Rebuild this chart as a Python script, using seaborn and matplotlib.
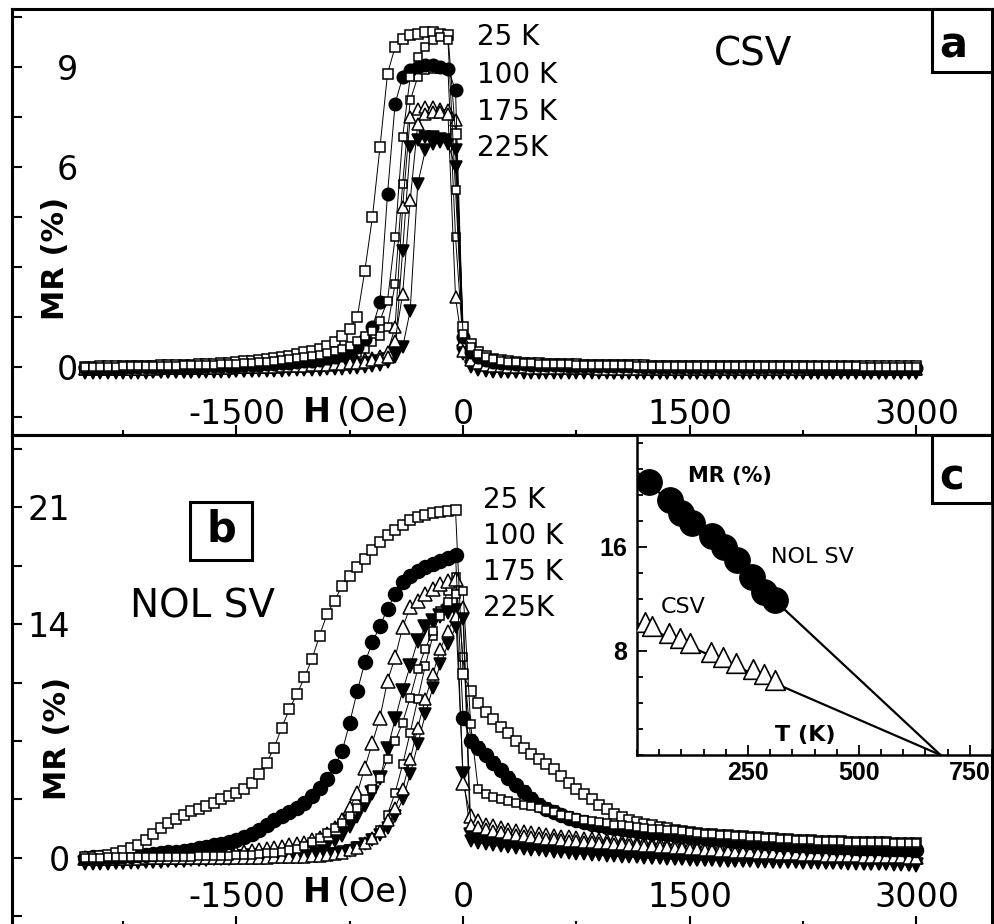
import numpy as np
import matplotlib
matplotlib.use("Agg")
import matplotlib.pyplot as plt
import seaborn as sns
from matplotlib.patches import Rectangle
from matplotlib.ticker import FuncFormatter, MultipleLocator

W, HGT = 994, 924

# field grid of the sweeps (Oe), 50 Oe steps from -2500 to 3000
FIELD = np.arange(-2500, 3001, 50)

# ---------------- panel a : CSV, MR (%) ----------------
CSV_25K_A = [
    0.02, 0.02, 0.03, 0.03, 0.03, 0.04, 0.04, 0.04, 0.05, 0.05,
    0.06, 0.06, 0.07, 0.07, 0.08, 0.09, 0.10, 0.11, 0.12, 0.14,
    0.16, 0.18, 0.20, 0.22, 0.25, 0.28, 0.31, 0.35, 0.40, 0.45,
    0.50, 0.56, 0.63, 0.75, 0.93, 1.15, 1.50, 2.90, 4.50, 6.60,
    8.80, 9.60, 9.85, 9.95, 10.0, 10.05, 10.05, 10.0, 9.95, 7.00,
    1.20, 0.70, 0.45, 0.33, 0.26, 0.21, 0.18, 0.16, 0.14, 0.13,
    0.12, 0.11, 0.10, 0.10, 0.09, 0.09, 0.08, 0.08, 0.07, 0.07,
    0.07, 0.06, 0.06, 0.06, 0.06, 0.05, 0.05, 0.05, 0.05, 0.05,
    0.05, 0.04, 0.04, 0.04, 0.04, 0.04, 0.04, 0.04, 0.04, 0.03,
    0.03, 0.03, 0.03, 0.03, 0.03, 0.03, 0.03, 0.03, 0.03, 0.03,
    0.03, 0.03, 0.03, 0.03, 0.03, 0.03, 0.03, 0.03, 0.03, 0.03, 0.03,
]
CSV_25K_B = [
    0.01, 0.01, 0.02, 0.02, 0.02, 0.03, 0.03, 0.03, 0.04, 0.04,
    0.04, 0.05, 0.05, 0.06, 0.06, 0.07, 0.07, 0.08, 0.09, 0.10,
    0.11, 0.12, 0.13, 0.15, 0.17, 0.19, 0.21, 0.24, 0.27, 0.30,
    0.33, 0.37, 0.42, 0.48, 0.55, 0.65, 0.80, 0.95, 1.10, 1.40,
    2.00, 3.90, 6.90, 8.70, 9.30, 9.60, 9.80, 9.90, 9.80, 5.30,
    1.00, 0.60, 0.40, 0.30, 0.24, 0.20, 0.17, 0.15, 0.13, 0.12,
    0.11, 0.10, 0.10, 0.09, 0.09, 0.08, 0.08, 0.07, 0.07, 0.06,
    0.06, 0.06, 0.06, 0.05, 0.05, 0.05, 0.05, 0.05, 0.05, 0.04,
    0.04, 0.04, 0.04, 0.04, 0.04, 0.04, 0.03, 0.03, 0.03, 0.03,
    0.03, 0.03, 0.03, 0.03, 0.03, 0.03, 0.03, 0.03, 0.03, 0.03,
    0.03, 0.03, 0.03, 0.02, 0.02, 0.02, 0.02, 0.02, 0.02, 0.02, 0.02,
]
CSV_100K_A = [
    -0.02, -0.02, -0.02, -0.01, -0.01, -0.01, 0.00, 0.00, 0.00, 0.00,
    0.01, 0.01, 0.01, 0.02, 0.02, 0.02, 0.03, 0.03, 0.04, 0.04,
    0.05, 0.06, 0.07, 0.08, 0.09, 0.10, 0.12, 0.14, 0.16, 0.18,
    0.20, 0.23, 0.27, 0.32, 0.38, 0.47, 0.60, 0.85, 1.20, 1.95,
    5.20, 7.90, 8.70, 8.90, 9.00, 9.05, 9.05, 9.00, 8.95, 8.30,
    0.90, 0.45, 0.30, 0.22, 0.17, 0.14, 0.12, 0.10, 0.09, 0.08,
    0.07, 0.07, 0.06, 0.06, 0.05, 0.05, 0.04, 0.04, 0.04, 0.03,
    0.03, 0.03, 0.03, 0.03, 0.02, 0.02, 0.02, 0.02, 0.02, 0.01,
    0.01, 0.01, 0.01, 0.01, 0.01, 0.00, 0.00, 0.00, 0.00, 0.00,
    0.00, 0.00, 0.00, 0.00, 0.00, 0.00, -0.01, -0.01, -0.01, -0.01,
    -0.01, -0.01, -0.01, -0.01, -0.01, -0.01, -0.01, -0.01, -0.01, -0.01, -0.01,
]
CSV_100K_B = [
    -0.01, -0.01, -0.01, -0.01, 0.00, 0.00, 0.00, 0.00, 0.00, 0.01,
    0.01, 0.01, 0.01, 0.02, 0.02, 0.02, 0.02, 0.03, 0.03, 0.03,
    0.04, 0.04, 0.05, 0.05, 0.06, 0.07, 0.08, 0.09, 0.10, 0.12,
    0.14, 0.16, 0.19, 0.23, 0.28, 0.34, 0.42, 0.55, 0.75, 0.95,
    1.20, 2.50, 5.50, 8.00, 8.70, 8.90, 8.95, 8.95, 8.90, 3.90,
    0.70, 0.40, 0.27, 0.20, 0.16, 0.13, 0.11, 0.10, 0.09, 0.08,
    0.07, 0.06, 0.06, 0.05, 0.05, 0.05, 0.04, 0.04, 0.04, 0.03,
    0.03, 0.03, 0.03, 0.02, 0.02, 0.02, 0.02, 0.02, 0.01, 0.01,
    0.01, 0.01, 0.01, 0.01, 0.01, 0.00, 0.00, 0.00, 0.00, 0.00,
    0.00, 0.00, 0.00, 0.00, 0.00, 0.00, 0.00, 0.00, 0.00, 0.00,
    0.00, 0.00, 0.00, 0.00, 0.00, 0.00, 0.00, 0.00, 0.00, 0.00, 0.00,
]
CSV_175K_A = [
    -0.05, -0.05, -0.05, -0.04, -0.04, -0.04, -0.04, -0.03, -0.03, -0.03,
    -0.03, -0.02, -0.02, -0.02, -0.01, -0.01, -0.01, 0.00, 0.00, 0.00,
    0.01, 0.01, 0.02, 0.02, 0.03, 0.03, 0.04, 0.05, 0.06, 0.07,
    0.08, 0.09, 0.10, 0.12, 0.14, 0.17, 0.20, 0.24, 0.28, 0.35,
    0.45, 1.20, 4.80, 7.50, 7.75, 7.80, 7.80, 7.75, 7.70, 7.40,
    0.80, 0.30, 0.18, 0.12, 0.08, 0.06, 0.04, 0.03, 0.02, 0.01,
    0.00, 0.00, -0.01, -0.01, -0.01, -0.02, -0.02, -0.02, -0.02, -0.03,
    -0.03, -0.03, -0.03, -0.03, -0.03, -0.04, -0.04, -0.04, -0.04, -0.04,
    -0.04, -0.04, -0.04, -0.04, -0.04, -0.04, -0.04, -0.04, -0.04, -0.04,
    -0.05, -0.05, -0.05, -0.05, -0.05, -0.05, -0.05, -0.05, -0.05, -0.05,
    -0.05, -0.05, -0.05, -0.05, -0.05, -0.05, -0.05, -0.05, -0.05, -0.05, -0.05,
]
CSV_175K_B = [
    -0.06, -0.06, -0.05, -0.05, -0.05, -0.05, -0.04, -0.04, -0.04, -0.04,
    -0.03, -0.03, -0.03, -0.03, -0.02, -0.02, -0.02, -0.01, -0.01, -0.01,
    0.00, 0.00, 0.01, 0.01, 0.02, 0.02, 0.03, 0.03, 0.04, 0.05,
    0.06, 0.07, 0.08, 0.09, 0.10, 0.12, 0.14, 0.17, 0.21, 0.25,
    0.30, 0.80, 2.20, 5.00, 7.30, 7.60, 7.65, 7.65, 7.60, 2.10,
    0.50, 0.22, 0.13, 0.08, 0.05, 0.03, 0.02, 0.01, 0.00, -0.01,
    -0.01, -0.02, -0.02, -0.02, -0.03, -0.03, -0.03, -0.03, -0.04, -0.04,
    -0.04, -0.04, -0.04, -0.04, -0.04, -0.04, -0.04, -0.04, -0.04, -0.04,
    -0.05, -0.05, -0.05, -0.05, -0.05, -0.05, -0.05, -0.05, -0.05, -0.05,
    -0.05, -0.05, -0.05, -0.05, -0.05, -0.05, -0.05, -0.05, -0.05, -0.05,
    -0.06, -0.06, -0.06, -0.06, -0.06, -0.06, -0.06, -0.06, -0.06, -0.06, -0.06,
]
CSV_225K_A = [
    -0.15, -0.15, -0.15, -0.15, -0.15, -0.14, -0.14, -0.14, -0.14, -0.14,
    -0.14, -0.13, -0.13, -0.13, -0.13, -0.12, -0.12, -0.12, -0.11, -0.11,
    -0.11, -0.10, -0.10, -0.09, -0.09, -0.08, -0.08, -0.07, -0.06, -0.06,
    -0.05, -0.04, -0.03, -0.02, 0.00, 0.02, 0.05, 0.08, 0.12, 0.18,
    0.25, 0.45, 3.50, 6.60, 6.80, 6.90, 6.90, 6.85, 6.80, 6.50,
    0.50, 0.05, -0.05, -0.09, -0.11, -0.12, -0.13, -0.14, -0.14, -0.15,
    -0.15, -0.15, -0.15, -0.15, -0.15, -0.15, -0.15, -0.15, -0.15, -0.15,
    -0.16, -0.16, -0.16, -0.16, -0.16, -0.16, -0.16, -0.16, -0.16, -0.16,
    -0.16, -0.16, -0.16, -0.16, -0.16, -0.16, -0.16, -0.16, -0.16, -0.16,
    -0.17, -0.17, -0.17, -0.17, -0.17, -0.17, -0.17, -0.17, -0.17, -0.17,
    -0.17, -0.17, -0.17, -0.17, -0.17, -0.17, -0.17, -0.17, -0.17, -0.17, -0.17,
]
CSV_225K_B = [
    -0.17, -0.17, -0.17, -0.17, -0.16, -0.16, -0.16, -0.16, -0.16, -0.15,
    -0.15, -0.15, -0.15, -0.14, -0.14, -0.14, -0.14, -0.13, -0.13, -0.13,
    -0.12, -0.12, -0.12, -0.11, -0.11, -0.10, -0.10, -0.09, -0.09, -0.08,
    -0.08, -0.07, -0.06, -0.05, -0.04, -0.03, -0.01, 0.01, 0.04, 0.08,
    0.15, 0.30, 0.60, 1.70, 5.50, 6.50, 6.70, 6.75, 6.70, 6.00,
    0.40, 0.00, -0.08, -0.11, -0.13, -0.14, -0.15, -0.15, -0.16, -0.16,
    -0.16, -0.16, -0.16, -0.16, -0.16, -0.16, -0.16, -0.16, -0.16, -0.16,
    -0.17, -0.17, -0.17, -0.17, -0.17, -0.17, -0.17, -0.17, -0.17, -0.17,
    -0.17, -0.17, -0.17, -0.17, -0.17, -0.17, -0.17, -0.17, -0.17, -0.17,
    -0.18, -0.18, -0.18, -0.18, -0.18, -0.18, -0.18, -0.18, -0.18, -0.18,
    -0.18, -0.18, -0.18, -0.18, -0.18, -0.18, -0.18, -0.18, -0.18, -0.18, -0.18,
]

# ---------------- panel b : NOL SV, MR (%) ----------------
NOL_25K_A = [
    0.05, 0.08, 0.12, 0.20, 0.30, 0.42, 0.58, 0.80, 1.10, 1.45,
    1.80, 2.10, 2.35, 2.60, 2.80, 2.95, 3.10, 3.30, 3.50, 3.70,
    3.90, 4.15, 4.50, 5.00, 5.70, 6.60, 7.80, 8.90, 9.80, 10.8,
    11.9, 13.3, 14.6, 15.4, 16.3, 16.9, 17.4, 17.9, 18.4, 18.9,
    19.3, 19.65, 19.95, 20.2, 20.4, 20.55, 20.65, 20.7, 20.75, 20.8,
    11.0, 10.0, 9.30, 8.75, 8.30, 7.85, 7.45, 7.00, 6.60, 6.20,
    5.90, 5.60, 5.30, 4.90, 4.50, 4.15, 3.80, 3.50, 3.20, 2.95,
    2.65, 2.45, 2.30, 2.15, 2.05, 1.95, 1.85, 1.78, 1.70, 1.62,
    1.55, 1.50, 1.46, 1.42, 1.38, 1.35, 1.32, 1.29, 1.26, 1.23,
    1.20, 1.18, 1.15, 1.13, 1.10, 1.08, 1.06, 1.04, 1.02, 1.00,
    0.99, 0.98, 0.97, 0.96, 0.95, 0.94, 0.93, 0.92, 0.91, 0.90, 0.90,
]
NOL_25K_B = [
    0.02, 0.02, 0.02, 0.03, 0.03, 0.03, 0.04, 0.04, 0.04, 0.05,
    0.05, 0.06, 0.06, 0.07, 0.08, 0.09, 0.10, 0.11, 0.12, 0.14,
    0.16, 0.18, 0.20, 0.23, 0.27, 0.32, 0.38, 0.45, 0.55, 0.72,
    0.95, 1.20, 1.50, 1.80, 2.10, 2.50, 3.00, 3.55, 4.10, 4.80,
    5.90, 7.00, 8.10, 9.60, 11.3, 12.5, 13.6, 14.5, 15.3, 15.8,
    16.0, 8.00, 4.10, 3.85, 3.65, 3.50, 3.40, 3.30, 3.20, 3.10,
    3.00, 2.90, 2.75, 2.60, 2.50, 2.40, 2.30, 2.22, 2.15, 2.08,
    2.00, 1.95, 1.90, 1.85, 1.80, 1.76, 1.72, 1.68, 1.65, 1.62,
    1.55, 1.50, 1.46, 1.42, 1.38, 1.35, 1.32, 1.29, 1.26, 1.23,
    1.20, 1.17, 1.15, 1.12, 1.10, 1.08, 1.06, 1.04, 1.02, 1.00,
    0.99, 0.98, 0.97, 0.96, 0.95, 0.94, 0.93, 0.92, 0.91, 0.90, 0.89,
]
NOL_100K_A = [
    0.02, 0.03, 0.04, 0.05, 0.07, 0.09, 0.12, 0.15, 0.19, 0.23,
    0.28, 0.33, 0.38, 0.44, 0.50, 0.57, 0.65, 0.75, 0.85, 0.97,
    1.10, 1.25, 1.45, 1.70, 2.00, 2.25, 2.50, 2.75, 3.00, 3.30,
    3.70, 4.20, 4.70, 5.50, 6.40, 8.10, 10.0, 11.7, 12.9, 13.9,
    14.9, 15.8, 16.5, 16.9, 17.2, 17.4, 17.6, 17.8, 17.95, 18.1,
    8.40, 7.00, 6.60, 6.15, 5.70, 5.25, 4.80, 4.35, 3.95, 3.55,
    3.20, 2.95, 2.75, 2.55, 2.40, 2.25, 2.15, 2.05, 1.95, 1.88,
    1.80, 1.74, 1.68, 1.62, 1.57, 1.52, 1.47, 1.42, 1.37, 1.32,
    1.28, 1.24, 1.20, 1.16, 1.12, 1.08, 1.04, 1.00, 0.97, 0.94,
    0.91, 0.88, 0.85, 0.82, 0.79, 0.76, 0.74, 0.72, 0.70, 0.68,
    0.66, 0.64, 0.62, 0.60, 0.58, 0.57, 0.56, 0.54, 0.53, 0.52, 0.50,
]
NOL_100K_B = [
    0.00, 0.00, 0.00, 0.01, 0.01, 0.01, 0.01, 0.02, 0.02, 0.02,
    0.02, 0.03, 0.03, 0.03, 0.04, 0.04, 0.05, 0.05, 0.06, 0.06,
    0.07, 0.08, 0.09, 0.10, 0.11, 0.12, 0.14, 0.16, 0.18, 0.20,
    0.23, 0.27, 0.32, 0.38, 0.46, 0.56, 0.70, 0.90, 1.20, 1.70,
    2.60, 3.90, 5.60, 7.50, 9.50, 11.5, 13.3, 14.8, 16.0, 16.8,
    12.0, 7.10, 6.70, 6.25, 5.80, 5.35, 4.90, 4.45, 4.05, 3.65,
    3.30, 3.05, 2.85, 2.65, 2.50, 2.35, 2.25, 2.15, 2.05, 1.98,
    1.90, 1.84, 1.78, 1.72, 1.66, 1.61, 1.56, 1.51, 1.46, 1.41,
    1.36, 1.32, 1.28, 1.24, 1.20, 1.16, 1.12, 1.08, 1.05, 1.02,
    0.99, 0.96, 0.93, 0.90, 0.87, 0.84, 0.82, 0.80, 0.78, 0.76,
    0.74, 0.72, 0.70, 0.68, 0.66, 0.65, 0.64, 0.62, 0.61, 0.60, 0.58,
]
NOL_175K_A = [
    0.00, 0.00, 0.01, 0.01, 0.02, 0.02, 0.03, 0.03, 0.04, 0.05,
    0.06, 0.07, 0.08, 0.10, 0.12, 0.14, 0.17, 0.20, 0.24, 0.28,
    0.32, 0.37, 0.42, 0.48, 0.54, 0.60, 0.67, 0.75, 0.83, 0.92,
    1.05, 1.20, 1.45, 1.80, 2.30, 3.00, 3.90, 5.40, 6.90, 8.40,
    10.6, 12.0, 13.8, 15.0, 15.4, 15.8, 16.1, 16.4, 16.6, 16.7,
    4.50, 2.50, 2.20, 2.00, 1.90, 1.80, 1.70, 1.62, 1.55, 1.48,
    1.42, 1.37, 1.32, 1.27, 1.23, 1.19, 1.15, 1.11, 1.07, 1.03,
    1.00, 0.97, 0.94, 0.91, 0.88, 0.85, 0.82, 0.79, 0.76, 0.73,
    0.70, 0.67, 0.64, 0.61, 0.58, 0.55, 0.52, 0.49, 0.46, 0.43,
    0.40, 0.38, 0.36, 0.34, 0.32, 0.30, 0.28, 0.26, 0.24, 0.22,
    0.20, 0.19, 0.18, 0.16, 0.15, 0.13, 0.12, 0.10, 0.09, 0.07, 0.06,
]
NOL_175K_B = [
    -0.05, -0.05, -0.05, -0.05, -0.04, -0.04, -0.04, -0.04, -0.03, -0.03,
    -0.03, -0.03, -0.02, -0.02, -0.02, -0.01, -0.01, -0.01, 0.00, 0.00,
    0.00, 0.01, 0.01, 0.02, 0.02, 0.03, 0.04, 0.05, 0.06, 0.07,
    0.09, 0.12, 0.16, 0.22, 0.32, 0.45, 0.62, 0.88, 1.20, 1.60,
    2.30, 3.00, 4.10, 5.90, 7.80, 9.50, 11.0, 12.5, 13.6, 14.5,
    15.0, 2.00, 1.85, 1.72, 1.62, 1.53, 1.45, 1.38, 1.32, 1.26,
    1.21, 1.16, 1.12, 1.08, 1.04, 1.00, 0.96, 0.93, 0.90, 0.87,
    0.84, 0.81, 0.78, 0.75, 0.72, 0.69, 0.66, 0.63, 0.60, 0.57,
    0.54, 0.51, 0.48, 0.45, 0.42, 0.40, 0.38, 0.36, 0.34, 0.32,
    0.30, 0.28, 0.26, 0.24, 0.22, 0.20, 0.18, 0.16, 0.14, 0.12,
    0.11, 0.10, 0.09, 0.08, 0.07, 0.06, 0.05, 0.04, 0.03, 0.02, 0.01,
]
NOL_225K_A = [
    -0.30, -0.30, -0.28, -0.28, -0.26, -0.25, -0.24, -0.22, -0.20, -0.19,
    -0.17, -0.15, -0.13, -0.11, -0.09, -0.07, -0.05, -0.03, 0.00, 0.02,
    0.05, 0.07, 0.09, 0.11, 0.14, 0.17, 0.20, 0.25, 0.31, 0.38,
    0.45, 0.60, 0.80, 1.05, 1.40, 1.90, 2.50, 3.20, 3.90, 4.80,
    6.50, 8.30, 10.0, 11.5, 13.0, 13.8, 14.2, 14.5, 14.7, 14.8,
    5.00, 1.40, 1.20, 1.05, 0.95, 0.87, 0.80, 0.74, 0.68, 0.63,
    0.58, 0.54, 0.50, 0.46, 0.42, 0.38, 0.34, 0.30, 0.27, 0.24,
    0.21, 0.18, 0.15, 0.12, 0.10, 0.08, 0.06, 0.04, 0.02, 0.00,
    -0.02, -0.04, -0.06, -0.08, -0.10, -0.12, -0.13, -0.14, -0.15, -0.16,
    -0.17, -0.18, -0.19, -0.20, -0.21, -0.22, -0.23, -0.24, -0.25, -0.26,
    -0.27, -0.28, -0.29, -0.30, -0.31, -0.32, -0.33, -0.34, -0.35, -0.37, -0.40,
]
NOL_225K_B = [
    -0.32, -0.32, -0.31, -0.30, -0.29, -0.28, -0.27, -0.26, -0.25, -0.24,
    -0.22, -0.21, -0.19, -0.17, -0.15, -0.13, -0.11, -0.09, -0.07, -0.05,
    -0.03, -0.01, 0.00, 0.01, 0.02, 0.03, 0.04, 0.05, 0.07, 0.09,
    0.11, 0.14, 0.18, 0.24, 0.32, 0.44, 0.60, 0.82, 1.10, 1.40,
    1.80, 2.50, 3.50, 5.00, 6.80, 8.60, 10.2, 11.6, 12.8, 13.8,
    14.3, 1.00, 0.90, 0.82, 0.75, 0.69, 0.63, 0.58, 0.53, 0.49,
    0.45, 0.41, 0.37, 0.33, 0.29, 0.25, 0.22, 0.19, 0.16, 0.13,
    0.10, 0.07, 0.05, 0.03, 0.01, -0.01, -0.03, -0.05, -0.07, -0.09,
    -0.11, -0.12, -0.13, -0.14, -0.15, -0.16, -0.17, -0.18, -0.19, -0.20,
    -0.21, -0.22, -0.23, -0.24, -0.25, -0.26, -0.27, -0.28, -0.29, -0.30,
    -0.31, -0.32, -0.33, -0.34, -0.35, -0.36, -0.37, -0.38, -0.39, -0.40, -0.41,
]

# ---------------- panel c : MR vs T ----------------
T_NOL = [28, 75, 100, 125, 170, 195, 225, 260, 287, 310]
MR_NOL = [21.0, 19.6, 18.6, 17.8, 16.8, 16.0, 15.0, 13.7, 12.5, 11.9]
T_CSV = [18, 34, 71, 98, 120, 166, 193, 223, 261, 287, 310]
MR_CSV = [10.2, 9.9, 9.4, 9.0, 8.6, 7.9, 7.5, 7.1, 6.6, 6.2, 5.8]
T_FIT = [0, 684]
FIT_NOL = [21.76, 0.0]
FIT_CSV = [10.1, 0.0]

TEMPS = ["25 K", "100 K", "175 K", "225K"]

plt.rcParams["axes.unicode_minus"] = False
plt.rcParams["font.family"] = ["DejaVu Sans"]

fig = plt.figure(figsize=(W / 100, HGT / 100), dpi=100)


def box(x0, y0, x1, y1):
    # axes rectangle from pixel corners (top-left origin)
    return [x0 / W, 1 - y1 / HGT, (x1 - x0) / W, (y1 - y0) / HGT]


def put(x, y, s, **kw):
    kw.setdefault("ha", "center")
    kw.setdefault("va", "center")
    fig.text(x / W, 1 - y / HGT, s, zorder=6, **kw)


def label_box(x0, y0, x1, y1, letter, lx, ly):
    fig.add_artist(Rectangle((x0 / W, 1 - y1 / HGT), (x1 - x0) / W, (y1 - y0) / HGT,
                             transform=fig.transFigure, facecolor="white",
                             edgecolor="black", lw=2.2, zorder=5))
    put(lx, ly, letter, fontsize=30, fontweight="bold")


def branch(ax, values, marker, ms, filled):
    sns.lineplot(x=FIELD, y=values, ax=ax, sort=False, errorbar=None,
                 color="black", linewidth=0.7, marker=marker, markersize=ms,
                 markerfacecolor="black" if filled else "white",
                 markeredgecolor="black", markeredgewidth=1.1)


def field_axes(ax, ylim, ystep, ylabels, xpad, ypad):
    ax.set_xlim(-2985, 3500)
    ax.set_ylim(*ylim)
    ax.xaxis.set_major_locator(MultipleLocator(1500))
    ax.xaxis.set_minor_locator(MultipleLocator(750))
    ax.yaxis.set_major_locator(MultipleLocator(ystep))
    ax.xaxis.set_major_formatter(FuncFormatter(lambda v, p: f"{v:.0f}"))
    ax.yaxis.set_major_formatter(
        FuncFormatter(lambda v, p: f"{v:.0f}" if round(v, 2) in ylabels else ""))
    ax.tick_params(axis="x", which="major", direction="in", length=7, width=1.5,
                   labelsize=24, pad=xpad)
    ax.tick_params(axis="x", which="minor", direction="in", length=3.6, width=1.5)
    ax.tick_params(axis="y", which="major", direction="in", length=7, width=1.5,
                   labelsize=24, pad=ypad)
    ax.set_xlabel("")
    ax.set_ylabel("")
    for s in ax.spines.values():
        s.set_linewidth(2.2)


ax_a = fig.add_axes(box(12, 9, 992, 435))
ax_b = fig.add_axes(box(12, 435, 992, 926))

panels = [
    (ax_a, [(CSV_100K_B, "s", 6, False), (CSV_225K_A, "v", 8.5, True),
            (CSV_225K_B, "v", 8, True), (CSV_175K_A, "^", 9, False),
            (CSV_175K_B, "^", 8.5, False), (CSV_100K_A, "o", 9, True),
            (CSV_25K_A, "s", 7.2, False), (CSV_25K_B, "s", 6, False)]),
    (ax_b, [(NOL_100K_B, "s", 6.2, False), (NOL_225K_A, "v", 9.5, True),
            (NOL_225K_B, "v", 8.5, True), (NOL_175K_A, "^", 9.5, False),
            (NOL_175K_B, "^", 9, False), (NOL_100K_A, "o", 10, True),
            (NOL_25K_A, "s", 7.4, False), (NOL_25K_B, "s", 6.2, False)]),
]
for ax, series in panels:
    for values, marker, ms, filled in series:
        branch(ax, values, marker, ms, filled)

field_axes(ax_a, (-2.03, 10.74), 1.5, (0, 6, 9), -26.6, -47.5)
field_axes(ax_b, (-4.07, 25.31), 3.5, (0, 14, 21), -32.4, -41.8)

# inset c
ax_c = fig.add_axes(box(637, 435, 992, 755))
ax_c.set_zorder(3)
ax_c.set_facecolor("white")
sns.lineplot(x=T_FIT, y=FIT_NOL, ax=ax_c, color="black", linewidth=1.6, errorbar=None)
sns.lineplot(x=T_FIT, y=FIT_CSV, ax=ax_c, color="black", linewidth=1.6, errorbar=None)
sns.scatterplot(x=T_NOL, y=MR_NOL, ax=ax_c, marker="o", s=340, color="black",
                edgecolor="black", linewidth=0.8, zorder=4)
sns.scatterplot(x=T_CSV, y=MR_CSV, ax=ax_c, marker="^", s=200, color="white",
                edgecolor="black", linewidth=1.2, zorder=4)
ax_c.set_xlim(0, 800)
ax_c.set_ylim(0, 24.6)
inset_font = dict(family=["Liberation Sans", "DejaVu Sans"], weight="bold", size=18)
ax_c.set_xticks([250, 500, 750], labels=["250", "500", "750"], fontdict=inset_font)
ax_c.set_yticks([8, 16], labels=["8", "16"], fontdict=inset_font)
ax_c.xaxis.set_minor_locator(MultipleLocator(50))
ax_c.yaxis.set_minor_locator(MultipleLocator(2))
ax_c.tick_params(which="major", direction="in", length=7, width=1.3)
ax_c.tick_params(axis="x", which="major", pad=4)
ax_c.tick_params(axis="y", which="major", pad=7)
ax_c.tick_params(which="minor", direction="in", length=4, width=1.3)
ax_c.set_xlabel("")
ax_c.set_ylabel("")
for s in ax_c.spines.values():
    s.set_linewidth(1.8)

# texts, panel a
for lab, y in zip(TEMPS, [37, 75, 112, 148]):
    put(477, y, lab, fontsize=20, ha="left")
put(753, 54, "CSV", fontsize=28)
label_box(932, 9, 992, 72, "a", 953, 46)
put(331, 412, "H", fontsize=24, fontweight="bold", ha="right")
put(336, 412, "(Oe)", fontsize=24, ha="left")
put(55, 258, "MR (%)", fontsize=22, fontweight="bold", rotation=90)

# texts, panel b
for lab, y in zip(TEMPS, [500, 536, 572, 608]):
    put(483, y, lab, fontsize=20, ha="left")
put(203, 607, "NOL SV", fontsize=28)
label_box(190, 502, 252, 560, "b", 221, 530)
put(331, 893, "H", fontsize=24, fontweight="bold", ha="right")
put(336, 893, "(Oe)", fontsize=24, ha="left")
put(57, 738, "MR (%)", fontsize=22, fontweight="bold", rotation=90)

# texts, inset c
put(730, 476, "MR (%)", fontsize=15, fontweight="bold")
put(812, 557, "NOL SV", fontsize=16)
put(683, 607, "CSV", fontsize=16)
put(805, 735, "T (K)", fontsize=16, fontweight="bold")
label_box(932, 435, 992, 503, "c", 952, 478)

fig.savefig("out.png", dpi=100)
